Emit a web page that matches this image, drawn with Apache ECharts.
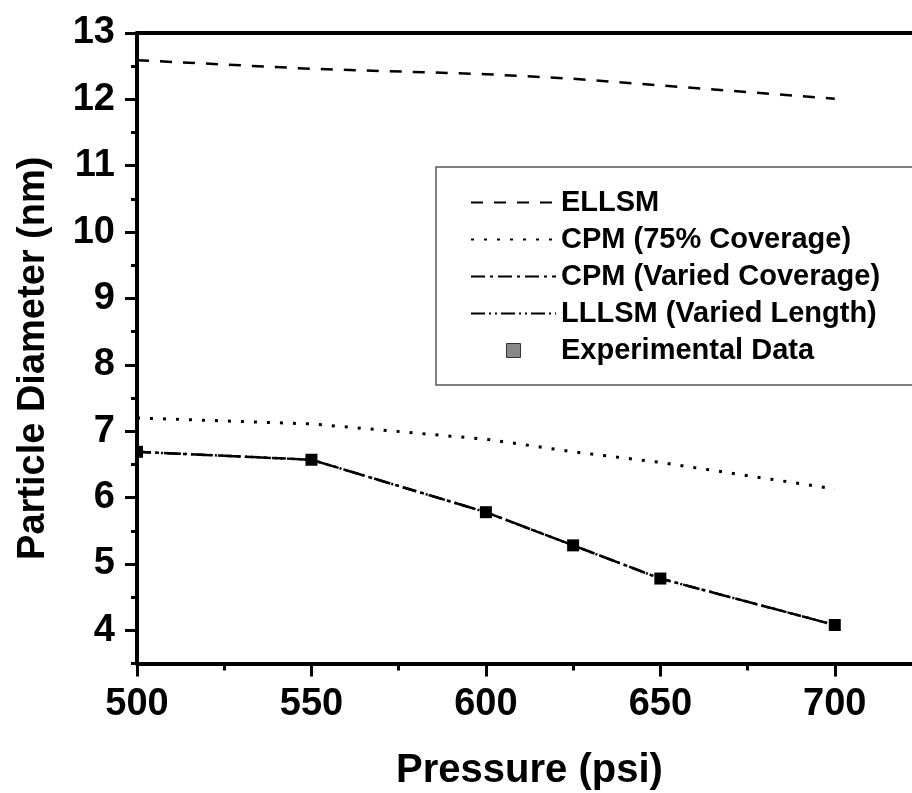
<!DOCTYPE html>
<html>
<head>
<meta charset="utf-8">
<script src="https://cdn.jsdelivr.net/npm/echarts@6/dist/echarts.min.js"></script>
<style>
  html, body { margin: 0; padding: 0; background: #fff; }
  #chart { width: 912px; height: 793px; }
</style>
</head>
<body>
<div id="chart"></div>
<script>
// Pressure points (psi) where each model was evaluated
const pressure = [500, 550, 600, 625, 650, 700];
// Model predictions of particle diameter (nm)
const ellsm = [12.59, 12.46, 12.38, 12.31, 12.21, 12.01];
const cpm75 = [7.20, 7.11, 6.88, 6.69, 6.53, 6.13];
const cpmVaried = [6.69, 6.57, 5.78, 5.28, 4.78, 4.08];
const lllsmVaried = [6.69, 6.57, 5.78, 5.28, 4.78, 4.08];
// Measured diameters
const expPressure = [500, 550, 600, 625, 650, 700];
const expDiameter = [6.69, 6.57, 5.78, 5.28, 4.78, 4.08];

// Axis ticks
const xMajorTicks = [500, 550, 600, 650, 700];
const xMinorTicks = [525, 575, 625, 675];
const yMajorTicks = [4, 5, 6, 7, 8, 9, 10, 11, 12, 13];
const yMinorTicks = [3.5, 4.5, 5.5, 6.5, 7.5, 8.5, 9.5, 10.5, 11.5, 12.5];

const X_MIN = 500, X_MAX = 725, Y_MIN = 3.5, Y_MAX = 13;
const FONT = '"Liberation Sans", Arial, Helvetica, sans-serif';

const pairs = (xs, ys) => xs.map((x, i) => [x, ys[i]]);

// A square sitting on the left frame edge is shown only inside the frame
const expData = pairs(expPressure, expDiameter).map(p =>
  p[0] === X_MIN
    ? { value: p, symbolSize: [6, 12], symbolOffset: [3, 0] }
    : { value: p }
);

const chart = echarts.init(document.getElementById('chart'), null, { renderer: 'canvas' });

const baseX = { type: 'value', min: X_MIN, max: X_MAX, splitLine: { show: false } };
const baseY = { type: 'value', min: Y_MIN, max: Y_MAX, splitLine: { show: false } };
// Line-only legend entries carry no marker
const noMarker = { color: 'transparent', borderColor: 'transparent', borderWidth: 0 };

chart.setOption({
  backgroundColor: '#fff',
  animation: false,
  grid: { left: 137, top: 33, width: 785, height: 630.5,
          containLabel: false, outerBoundsMode: 'none' },
  xAxis: [
    Object.assign({}, baseX, {
      position: 'bottom',
      name: 'Pressure (psi)',
      nameLocation: 'middle',
      nameGap: 87,
      nameTextStyle: { fontFamily: FONT, fontSize: 40, fontWeight: 'bold', color: '#000' },
      axisLine: { show: true, onZero: false, lineStyle: { color: '#000', width: 4 } },
      axisTick: { show: true, inside: false, length: 13, customValues: xMajorTicks,
                  lineStyle: { color: '#000', width: 3 } },
      axisLabel: { show: true, margin: 22, customValues: xMajorTicks,
                   fontFamily: FONT, fontSize: 38, fontWeight: 'bold', color: '#000' }
    }),
    Object.assign({}, baseX, {
      position: 'bottom',
      axisLine: { show: false, onZero: false },
      axisTick: { show: true, length: 7, customValues: xMinorTicks,
                  lineStyle: { color: '#000', width: 3 } },
      axisLabel: { show: false }
    }),
    Object.assign({}, baseX, {
      position: 'top',
      axisLine: { show: true, onZero: false, lineStyle: { color: '#000', width: 4 } },
      axisTick: { show: false },
      axisLabel: { show: false }
    })
  ],
  yAxis: [
    Object.assign({}, baseY, {
      position: 'left',
      name: 'Particle Diameter (nm)',
      nameLocation: 'middle',
      nameGap: 84,
      nameTextStyle: { fontFamily: FONT, fontSize: 38, fontWeight: 'bold', color: '#000',
                       padding: [0, 20, 0, 0] },
      axisLine: { show: true, onZero: false, lineStyle: { color: '#000', width: 4 } },
      axisTick: { show: true, inside: false, length: 12, customValues: yMajorTicks,
                  lineStyle: { color: '#000', width: 3 } },
      axisLabel: { show: true, margin: 22, customValues: yMajorTicks,
                   fontFamily: FONT, fontSize: 38, fontWeight: 'bold', color: '#000' }
    }),
    Object.assign({}, baseY, {
      position: 'left',
      axisLine: { show: false, onZero: false },
      axisTick: { show: true, length: 6, customValues: yMinorTicks,
                  lineStyle: { color: '#000', width: 3 } },
      axisLabel: { show: false }
    })
  ],
  legend: {
    orient: 'vertical',
    left: 436,
    top: 167,
    padding: [21, 60, 20, 34],
    itemGap: 8,
    itemWidth: 85,
    itemHeight: 17.5,
    backgroundColor: '#fff',
    borderColor: '#555',
    borderWidth: 1.5,
    textStyle: { fontFamily: FONT, fontSize: 29, fontWeight: 'bold', color: '#000',
                 lineHeight: 29, padding: [0, 0, 0, 0] },
    data: [
      { name: 'ELLSM', itemStyle: noMarker },
      { name: 'CPM (75% Coverage)', itemStyle: noMarker },
      { name: 'CPM (Varied Coverage)', itemStyle: noMarker },
      { name: 'LLLSM (Varied Length)', itemStyle: noMarker },
      { name: 'Experimental Data',
        itemStyle: { color: '#888', borderColor: '#333', borderWidth: 1 },
        lineStyle: { opacity: 0 } }
    ]
  },
  series: [
    {
      name: 'ELLSM', type: 'line', data: pairs(pressure, ellsm),
      symbol: 'none', z: 3,
      lineStyle: { color: '#000', width: 2.5, type: [12, 11] },
      itemStyle: { color: '#000' }
    },
    {
      name: 'CPM (75% Coverage)', type: 'line', data: pairs(pressure, cpm75),
      symbol: 'none', z: 3,
      lineStyle: { color: '#000', width: 3, type: [3, 10] },
      itemStyle: { color: '#000' }
    },
    {
      name: 'CPM (Varied Coverage)', type: 'line', data: pairs(pressure, cpmVaried),
      symbol: 'none', z: 3,
      lineStyle: { color: '#000', width: 2.5, type: [14, 5, 3, 5] },
      itemStyle: { color: '#000' }
    },
    {
      name: 'LLLSM (Varied Length)', type: 'line', data: pairs(pressure, lllsmVaried),
      symbol: 'none', z: 3,
      lineStyle: { color: '#000', width: 2.5, type: [14, 4, 2, 4, 2, 4] },
      itemStyle: { color: '#000' }
    },
    {
      name: 'Experimental Data', type: 'line', data: expData,
      symbol: 'rect', symbolSize: 12, showSymbol: true, z: 4,
      lineStyle: { opacity: 0, width: 0 },
      itemStyle: { color: '#000' }
    }
  ]
});
</script>
</body>
</html>
